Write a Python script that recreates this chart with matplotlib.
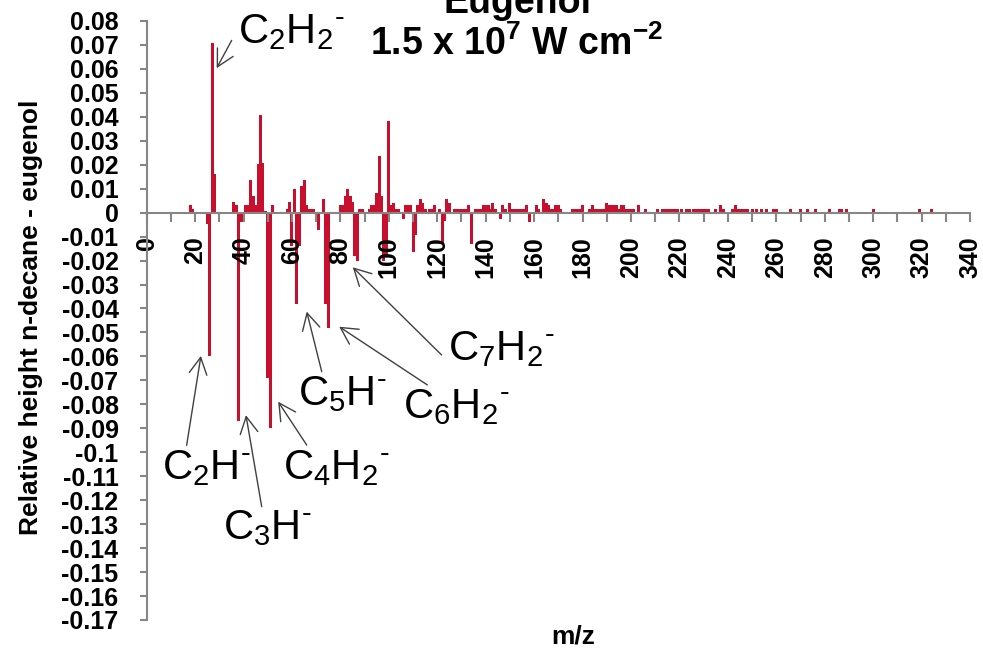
import matplotlib
matplotlib.use("Agg")
import matplotlib.pyplot as plt

plt.rcParams['font.family'] = ['Liberation Sans', 'DejaVu Sans']
plt.rcParams['mathtext.fontset'] = 'custom'
plt.rcParams['mathtext.rm'] = 'Liberation Sans'
plt.rcParams['mathtext.it'] = 'Liberation Sans:italic'
plt.rcParams['mathtext.bf'] = 'Liberation Sans:bold'

# m/z position (as read on the axis) and relative height n-decane - eugenol
mz = [18, 19, 25, 26, 27, 28, 36, 37, 38, 39, 41, 42, 43, 44, 45, 46, 47, 48, 49, 50,
      51, 52, 58, 59, 60, 61, 62, 63, 64, 65, 66, 67, 68, 69, 70, 71, 73, 74, 75, 80,
      81, 82, 83, 84, 85, 86, 87, 88, 89, 92, 93, 94, 95, 96, 97, 98, 99, 100, 101, 102,
      103, 104, 106, 107, 108, 109, 110, 111, 112, 113, 114, 115, 117, 118, 119, 121, 122, 123, 124, 125,
      127, 128, 129, 130, 131, 132, 133, 134, 136, 137, 138, 139, 140, 141, 142, 143, 144, 146, 147, 148,
      150, 151, 152, 153, 154, 155, 156, 157, 158, 161, 162, 164, 165, 166, 167, 168, 169, 170, 171, 176,
      177, 178, 179, 180, 183, 184, 185, 186, 187, 188, 189, 190, 191, 192, 193, 194, 195, 196, 197, 198,
      199, 200, 201, 203, 206, 211, 213, 214, 215, 216, 217, 218, 219, 221, 223, 224, 226, 227, 228, 229,
      230, 231, 232, 235, 237, 238, 242, 243, 244, 245, 246, 247, 248, 250, 252, 254, 256, 259, 260, 266,
      270, 273, 276, 282, 286, 287, 289, 300, 319, 324]
rel_height = [0.003, 0.0015, -0.0046, -0.060, 0.071, 0.0163, 0.0043, 0.003, -0.087, -0.004,
              0.003, 0.003, 0.0135, 0.007, 0.003, 0.0205, 0.0406, 0.0209, 0.0007, -0.069,
              -0.090, 0.003, 0.0017, 0.0043, -0.014, 0.010, -0.038, -0.014, 0.0113, 0.0138,
              0.0032, 0.0017, 0.0017, 0.0017, -0.0036, -0.0074, 0.0058, -0.038, -0.048, 0.0032,
              0.0032, 0.007, 0.0099, 0.007, 0.0043, -0.018, -0.020, 0.0017, 0.0017, 0.0017,
              0.0032, 0.003, 0.0083, 0.0235, 0.0071, -0.020, -0.018, 0.0384, 0.0033, 0.004,
              0.0017, 0.0017, -0.0026, 0.0032, 0.0032, 0.0032, -0.0166, -0.0092, 0.0032, 0.0058,
              0.004, 0.0017, 0.0017, 0.0017, 0.0032, 0.0017, -0.013, -0.0036, 0.0058, 0.004,
              0.0017, 0.0017, 0.0017, 0.0017, 0.0017, 0.0017, 0.0032, -0.013, 0.0015, 0.0015,
              0.0014, 0.003, 0.003, 0.003, 0.0014, 0.0039, 0.0014, -0.0028, 0.003, 0.0014,
              0.0039, 0.0014, 0.0014, 0.0014, 0.0014, 0.0014, 0.0014, 0.003, -0.004, 0.003,
              0.0014, 0.0056, 0.0039, 0.003, 0.0014, 0.0014, 0.003, 0.003, 0.0014, 0.0014,
              0.0014, 0.0014, 0.0014, 0.003, 0.0014, 0.003, 0.0014, 0.0014, 0.0014, 0.0014,
              0.0014, 0.0039, 0.003, 0.003, 0.003, 0.003, 0.0014, 0.003, 0.003, 0.0014,
              0.0014, 0.0014, 0.0014, 0.003, 0.0014, 0.0014, 0.0014, 0.0014, 0.0014, 0.0014,
              0.0014, 0.0014, 0.0014, 0.0014, 0.0014, 0.0014, 0.0014, 0.0014, 0.0014, 0.0014,
              0.0014, 0.0014, 0.0014, 0.0014, 0.003, 0.0014, 0.0014, 0.003, 0.0014, 0.0014,
              0.0014, 0.0014, 0.0014, 0.0014, 0.0014, 0.0014, 0.0014, 0.0014, 0.0014, 0.0014,
              0.0014, 0.0014, 0.0014, 0.0014, 0.0014, 0.0014, 0.0014, 0.0014, 0.0014, 0.0014]

y_ticks = [0.08, 0.07, 0.06, 0.05, 0.04, 0.03, 0.02, 0.01, 0, -0.01, -0.02, -0.03, -0.04,
           -0.05, -0.06, -0.07, -0.08, -0.09, -0.1, -0.11, -0.12, -0.13, -0.14, -0.15,
           -0.16, -0.17]
x_ticks = list(range(0, 341, 10))
x_labels = [str(t) if t % 20 == 0 else '' for t in x_ticks]

# ion labels: (text, text anchor (m/z, height), arrow tip, arrow tail)
ions = [
    (r"C$_2$H$_2{}^{\text{-}}$", (37.7, 0.0708), (28.9, 0.0603), (35.1, 0.0719)),
    (r"C$_2$H$^{\text{-}}$", (6.3, -0.1113), (22.4, -0.0598), (16.5, -0.0971)),
    (r"C$_3$H$^{\text{-}}$", (31.5, -0.1362), (41.0, -0.0845), (47.5, -0.1227)),
    (r"C$_4$H$_2{}^{\text{-}}$", (56.3, -0.1111), (54.3, -0.0789), (66.1, -0.0970)),
    (r"C$_5$H$^{\text{-}}$", (62.5, -0.0803), (66.1, -0.0413), (72.3, -0.0664)),
    (r"C$_6$H$_2{}^{\text{-}}$", (105.8, -0.0857), (79.5, -0.0476), (115.9, -0.0719)),
    (r"C$_7$H$_2{}^{\text{-}}$", (124.4, -0.0615), (85.1, -0.0228), (121.8, -0.0594)),
]

axis_grey = '#868686'

fig = plt.figure(figsize=(9.83, 6.49), dpi=100)
ax = fig.add_axes([0.1492, 0.0447, 0.8376, 0.9230])

ax.bar(mz, rel_height, width=1.25, color='#C8102E', linewidth=0)

ax.set_xlim(0, 340)
ax.set_ylim(-0.17, 0.08)

for s in ['top', 'right']:
    ax.spines[s].set_visible(False)
ax.spines['bottom'].set_position(('data', 0))
for s in ['left', 'bottom']:
    ax.spines[s].set_color(axis_grey)
    ax.spines[s].set_linewidth(1.5)

ax.set_yticks(y_ticks)
ax.set_yticklabels(['%g' % t for t in y_ticks], fontsize=18, fontweight='bold')
ax.tick_params(axis='y', direction='out', length=5.2, width=1.5, color=axis_grey, pad=15)

ax.set_xticks(x_ticks)
ax.set_xticklabels(x_labels, fontsize=18, fontweight='bold', rotation=90)
ax.tick_params(axis='x', direction='out', length=6.7, width=1.5, color=axis_grey, pad=10.5)

for label, txt_xy, tip, tail in ions:
    ax.text(txt_xy[0], txt_xy[1], label, fontsize=30, ha='left', va='baseline')
    ax.annotate('', xy=tip, xytext=tail,
                arrowprops=dict(arrowstyle='->, head_length=0.6, head_width=0.32',
                                color='#404040', lw=1.0, mutation_scale=20,
                                shrinkA=0, shrinkB=0))

fig.text(31 / 983, 1 - 317 / 649, 'Relative height n-decane - eugenol', rotation=90,
         fontsize=19, fontweight='bold', ha='center', va='center')
fig.text(573 / 983, 1 - 637 / 649, 'm/z', fontsize=19, fontweight='bold',
         ha='center', va='center')

fig.text(517 / 983, 1 - 13 / 649, 'Eugenol', fontsize=27, fontweight='bold',
         ha='center', va='baseline')
fig.text(517 / 983, 1 - 55 / 649, r"1.5 x 10$^{\mathbf{7}}$ W cm$^{\mathbf{-2}}$",
         fontsize=27, fontweight='bold', ha='center', va='baseline')

fig.savefig('out.png', dpi=100)
